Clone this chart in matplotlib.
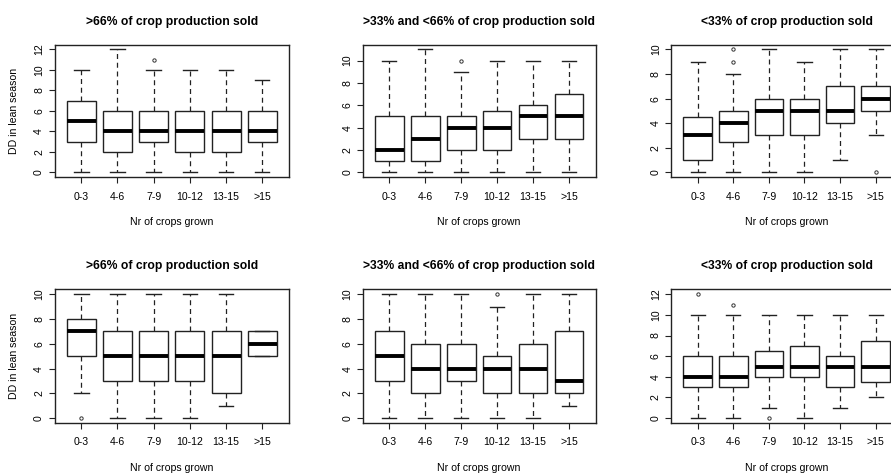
import matplotlib
matplotlib.use("Agg")
import matplotlib.pyplot as plt

plt.rcParams["font.family"] = ["Liberation Sans", "DejaVu Sans"]

W, H, DPI = 891, 473, 100

GROUPS = ["0-3", "4-6", "7-9", "10-12", "13-15", ">15"]
TITLES = [
    ">66% of crop production sold",
    ">33% and <66% of crop production sold",
    "<33% of crop production sold",
]
XLABEL = "Nr of crops grown"
YLABEL = "DD in lean season"

# each row: whisker low, q1, median, q3, whisker high
TOP_HIGH = [[0, 3, 5, 7, 10], [0, 2, 4, 6, 12], [0, 3, 4, 6, 10],
            [0, 2, 4, 6, 10], [0, 2, 4, 6, 10], [0, 3, 4, 6, 9]]
TOP_HIGH_OUT = [[], [], [11], [], [], []]

TOP_MID = [[0, 1, 2, 5, 10], [0, 1, 3, 5, 11], [0, 2, 4, 5, 9],
           [0, 2, 4, 5.5, 10], [0, 3, 5, 6, 10], [0, 3, 5, 7, 10]]
TOP_MID_OUT = [[], [], [10], [], [], []]

TOP_LOW = [[0, 1, 3, 4.5, 9], [0, 2.5, 4, 5, 8], [0, 3, 5, 6, 10],
           [0, 3, 5, 6, 9], [1, 4, 5, 7, 10], [3, 5, 6, 7, 10]]
TOP_LOW_OUT = [[], [9, 10], [], [], [], [0]]

BOT_HIGH = [[2, 5, 7, 8, 10], [0, 3, 5, 7, 10], [0, 3, 5, 7, 10],
            [0, 3, 5, 7, 10], [1, 2, 5, 7, 10], [5, 5, 6, 7, 7]]
BOT_HIGH_OUT = [[0], [], [], [], [], []]

BOT_MID = [[0, 3, 5, 7, 10], [0, 2, 4, 6, 10], [0, 3, 4, 6, 10],
           [0, 2, 4, 5, 9], [0, 2, 4, 6, 10], [1, 2, 3, 7, 10]]
BOT_MID_OUT = [[], [], [], [10], [], []]

BOT_LOW = [[0, 3, 4, 6, 10], [0, 3, 4, 6, 10], [1, 4, 5, 6.5, 10],
           [0, 4, 5, 7, 10], [1, 3, 5, 6, 10], [2, 3.5, 5, 7.5, 10]]
BOT_LOW_OUT = [[12], [11], [0], [], [], []]

PANELS = [
    (TOP_HIGH, TOP_HIGH_OUT, 12), (TOP_MID, TOP_MID_OUT, 11), (TOP_LOW, TOP_LOW_OUT, 10),
    (BOT_HIGH, BOT_HIGH_OUT, 10), (BOT_MID, BOT_MID_OUT, 10), (BOT_LOW, BOT_LOW_OUT, 12),
]

# plot regions in pixels: (left, right), (top, bottom)
COLS = [(54.5, 289.0), (362.7, 595.6), (671.4, 902.0)]
ROWS = [(44.5, 177.3), (289.3, 423.1)]

FS = 7.6

fig = plt.figure(figsize=(W / DPI, H / DPI), dpi=DPI)
fig.patch.set_facecolor("white")

for i, (rows, outs, ymax) in enumerate(PANELS):
    r, c = divmod(i, 3)
    (x0, x1), (y0, y1) = COLS[c], ROWS[r]
    ax = fig.add_axes([x0 / W, 1 - y1 / H, (x1 - x0) / W, (y1 - y0) / H])

    stats = []
    for row, fl in zip(rows, outs):
        lo, q1, med, q3, hi = row
        stats.append(dict(whislo=lo, q1=q1, med=med, q3=q3, whishi=hi, fliers=fl))
    ax.bxp(
        stats,
        positions=range(1, len(GROUPS) + 1),
        widths=0.8,
        patch_artist=True,
        boxprops=dict(facecolor="white", edgecolor="#222222", linewidth=1.0),
        medianprops=dict(color="black", linewidth=2.8, solid_capstyle="butt"),
        whiskerprops=dict(color="#222222", linewidth=0.9, linestyle=(0, (4, 3))),
        capprops=dict(color="#222222", linewidth=1.0),
        flierprops=dict(marker="o", markersize=2.4, markerfacecolor="none",
                        markeredgecolor="#333333", markeredgewidth=0.7),
    )

    ax.set_xlim(0.26, 6.74)
    pad = 0.04 * ymax
    ax.set_ylim(-pad, ymax + pad)
    ax.set_yticks(range(0, ymax + 1, 2))
    ax.set_xticks(range(1, len(GROUPS) + 1))
    ax.set_xticklabels(GROUPS, fontsize=FS)
    for lab in ax.get_yticklabels():
        lab.set_rotation(90)
        lab.set_va("center")
        lab.set_fontsize(FS)
    ax.tick_params(axis="x", length=4.3, width=0.8, pad=6.0, color="#222222")
    ax.tick_params(axis="y", length=4.3, width=0.8, pad=3.2, color="#222222")
    for s in ax.spines.values():
        s.set_linewidth(1.0)
        s.set_color("#222222")

    cx = (x0 + x1) / 2
    fig.text(cx / W, 1 - (y0 - 23) / H, TITLES[c], ha="center", va="center",
             fontsize=8.7, fontweight="bold")
    fig.text(cx / W, 1 - (y1 + 44.5) / H, XLABEL, ha="center", va="center", fontsize=FS)
    if c == 0:
        fig.text(14 / W, 1 - ((y0 + y1) / 2) / H, YLABEL, ha="center", va="center",
                 rotation=90, fontsize=FS)

fig.savefig("out.png", dpi=DPI, facecolor="white")
